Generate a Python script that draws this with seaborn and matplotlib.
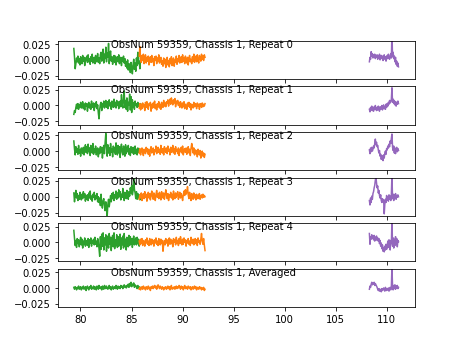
import numpy as np
import matplotlib
matplotlib.use("Agg")
import matplotlib.pyplot as plt
import seaborn as sns

# Frequency limits (GHz) of the three spectral bands
band_green = (79.35, 85.95)
band_orange = (85.75, 92.2)
band_purple = (108.3, 111.15)

# Spectra in units of 1e-3 K, one row per repeat, last row = average
green_vals = [
    [18, 4, -14, -6, 3, -3, 6, -5, 2, -8, 5, 0, -6, 7, -2, 4, -9, 3, -1, 6,
     -4, 8, -3, 2, -7, 5, -2, 9, -5, 1, 4, -6, 7, -3, 0, 10, -4, 3, -6, 8,
     12, -2, 6, 17, -5, 9, 2, 20, -3, 11, 4, 26, -6, 8, 14, -2, 5, -7, 3, 7,
     -4, 6, -8, 2, 5, -3, 8, -6, 1, 4, -9, 3, -2, 6, -5, 2, -10, -3, -13, 0,
     -16, -6, -9, -20, -4, -12, -22, -8, 1, -15, -5, -18, 3, -9, 12, -6, -2, -14, 4, -3],
    [-14, -8, -11, -3, 2, -5, 3, -6, 1, -2, 5, -4, 0, 6, -5, 2, -7, 4, -1, 3,
     -9, 1, 5, -4, 2, -6, 7, -3, 0, 4, -8, 3, -2, 6, -5, 1, -12, -21, -6, 2,
     5, -8, 3, -2, 7, -4, 1, 8, -3, 6, -5, 2, 9, -1, 4, -6, 7, 1, -3, 10,
     -2, 5, -4, 8, 0, 6, -5, 3, 7, -2, 17, 2, -4, 11, 23, -3, 8, -6, 12, -9,
     5, 1, 18, -7, 14, -11, 9, -2, 4, -6, 7, 0, 3, -3, 5, -1, 2, -4, 3, 0],
    [16, 3, -6, 7, -2, 4, -5, 9, -3, 2, -8, 5, 0, -4, 6, -6, 3, 10, -2, 7,
     -4, 11, -1, 5, -7, 9, 2, -3, 12, -5, 4, -2, 8, -6, 1, 5, -9, 3, -4, 7,
     -2, 6, -11, 3, 9, -4, 14, 28, 6, -8, 10, -3, 5, -7, 12, -2, 4, -9, 8, -1,
     6, -5, 13, 0, -6, 9, -3, 7, -10, 5, 11, -2, -6, 8, 3, -8, 10, -4, 6, -1,
     9, -5, 4, -7, 7, 1, -3, 6, -5, 2, 8, -4, 3, -6, 5, -2, 4, -3, 2, -1],
    [6, -8, 3, 10, -2, 5, -6, 2, -4, 7, 0, -5, 4, -3, 8, -1, 5, -7, 2, -4,
     3, -6, 6, -2, 9, -4, 1, -7, 4, -1, 7, -5, 2, -3, 5, -8, 0, -9, -2, -14,
     4, -11, -18, -6, -3, -13, -22, -8, -15, -31, -12, -4, -16, -7, 2, -8, 5, -3, 7, -6,
     3, -2, 9, -4, 6, -2, 11, 0, 8, -5, 4, -1, 13, 3, -6, 7, 2, -3, 10, 5,
     -4, 8, 1, 14, 6, 18, 3, 9, 31, 12, 6, -3, 8, -4, 5, -2, 3, -5, 1, 0],
    [19, 6, -5, 3, -8, 6, -2, 4, -7, 1, 8, -4, 5, -9, 2, -3, 7, -6, 3, 0,
     -5, 6, -8, 4, -2, 7, -6, 3, -1, 5, -4, 8, -3, 2, -7, 6, 1, -10, -22, 9,
     -11, 13, -6, 15, -12, 7, -4, 12, -14, 5, 10, -9, 14, -3, 8, -13, 6, 11, -7, 15,
     -10, 4, -5, 12, -8, 9, -6, 3, 13, -11, 7, -4, 10, -9, 14, -6, 5, -12, 8, 2,
     -7, 11, -5, 9, -3, 6, -8, 4, 10, -4, 3, 7, -4, 8, -2, 5, -6, 3, -1, 2],
    [1, -2, 2, 0, -3, 1, -1, 3, -2, 0, 2, -3, 1, -1, 3, -2, 0, 2, -4, 1,
     3, -1, -3, 2, 0, 4, -2, 1, -1, 3, -2, 2, 0, -3, 3, 1, -2, 4, 0, -1,
     2, -3, 3, 1, -2, 4, 2, -1, 3, 0, -2, 1, 4, -1, 2, -3, 1, 3, -2, 0,
     2, -1, 4, 1, -2, 3, 0, 2, -1, 4, 1, 3, -1, 2, 5, 1, 3, 0, 4, 2,
     6, 1, 7, 3, 9, 2, 6, 4, 8, 1, 5, 2, 3, -1, 4, 0, 2, -2, 1, 0],
]

orange_vals = [
    [6, 21, 2, -4, 7, -1, 9, -6, 3, 8, -5, 4, -2, 6, -8, 1, 5, -4, 7, -3,
     2, -9, 5, -1, 6, -6, 3, -2, 8, -5, 0, 4, -7, -1, -10, 3, -6, 1, -12, -3,
     4, -8, -1, -11, 2, -6, 5, -9, -2, 3, -10, 0, -4, 6, -7, 2, -3, 7, -5, 1,
     5, -4, 8, -2, 3, -6, 6, 0, -5, 4, -8, 3, 7, -3, 1, -6, 5, -2, 9, -4,
     2, 6, -3, 8, 0, -5, 7, 3, -2, 9, 1, 6, -1, 8, 4],
    [-4, 3, -7, 2, -5, 4, -2, 1, -8, 5, -3, 6, -1, -6, 3, 0, 5, -9, 2, -4,
     4, -3, 7, -5, 1, -7, 3, -2, 6, -4, 2, -6, 5, 0, -3, 8, -1, 4, -2, 6,
     3, 9, -1, 7, 10, 2, 12, 5, 1, 9, 4, 11, -2, 7, 3, 8, 0, 5, -3, 6,
     1, -4, 4, -2, 6, -5, 2, 0, -6, 4, -1, 5, -3, 3, -7, 2, 0, -4, 5, -2,
     3, 1, -5, 4, -1, 2, -6, 3, 0, -3, 4, -2, 2, -1, 3],
    [-3, 4, -6, 1, 5, -2, -7, 3, 0, -4, 6, -1, 4, -5, 2, -8, 3, 7, -3, 1,
     5, -6, 2, -1, 8, -4, 0, 6, -2, 3, -5, 9, 1, -3, 4, -6, 7, 2, -2, 5,
     -4, 8, 0, 3, -6, 6, -2, 1, 9, -3, 4, -5, 7, 0, 2, -4, 5, -7, 3, -1,
     6, -3, 8, -6, 2, 4, -2, 5, -5, 1, 7, -3, 3, -7, 4, 12, 6, -3, 5, -6,
     2, -4, 1, -9, 3, -2, -6, 1, -11, -4, 0, -8, -3, -10, -5],
    [-4, 3, -2, 6, -6, 1, 5, -3, 8, -1, 4, -7, 2, 7, -2, 5, -5, 3, 9, 0,
     -4, 6, 2, -6, 4, 10, -1, 5, -3, 7, 1, -5, 8, 3, -2, 6, -4, 2, 11, 4,
     -3, 5, -6, 3, 0, 7, -2, 4, -5, 9, 1, -3, 6, -1, 4, 8, -4, 2, 7, -2,
     5, 0, -6, 3, 9, 2, 11, 4, 7, 16, 3, -3, 7, 0, -6, 5, 2, -4, 6, -2,
     3, -5, 4, 0, -3, 2, 5, -4, 1, 3, -2, 4, -1, 2, 0],
    [2, -4, 5, -2, 6, -5, 3, 0, -6, 4, -1, 7, -3, 2, -5, 6, 1, -4, 5, -2,
     3, -6, 4, -1, 7, -3, 2, -5, 6, 0, -4, 5, -2, 3, -14, -3, 3, -4, 6, -1,
     4, -6, 2, 7, -3, 5, -2, 3, -7, 6, 0, 4, -4, 8, -1, 3, -5, 6, -2, 9,
     1, -4, 5, -3, 7, 0, 4, -6, 3, -1, 6, -3, 2, -5, 8, 1, -2, 5, -4, 3,
     6, -2, 4, -5, 7, 0, 3, -3, 5, 14, 2, -3, 6, -4, -13],
    [-2, 1, -3, 0, 2, -2, 3, -1, 1, -3, 2, 0, -2, 3, -1, 1, -4, 2, 0, 3,
     -1, 2, 4, 0, 3, -2, 1, 5, 2, -1, 3, 1, -2, 2, 0, -3, 1, -1, 2, -2,
     0, 3, -1, 2, -3, 1, 4, -2, 0, -1, 2, -2, 1, 3, -1, 2, 0, 4, 1, -2,
     3, 0, 2, -3, 1, 4, -1, 2, 0, -2, 3, 1, -1, 2, -3, 0, 2, -2, 1, 3,
     -1, 2, -3, 1, 0, -2, 2, -1, 1, -3, 0, -2, 1, -4, -2],
]

purple_vals = [
    [-3, 4, 1, 13, 6, 10, 3, 8, 5, 9, 2, 7, 4, 8, 1, 6, 3, 9, 0, 5,
     7, 2, 6, -1, 4, 8, 1, 5, -2, 3, 7, 2, 9, 4, 1, 6, 10, 3, 42, 5,
     12, 2, 6, -3, 4, -7, -2, -10, -5, -11],
    [-6, -10, -3, -7, -1, -8, -4, -9, -2, -6, 0, -5, -8, -3, -7, -1, -5, -9, -2, -6,
     -4, 0, -7, -3, 1, -5, -2, -6, 2, -3, 3, -1, 5, 2, 8, 4, 6, 10, 28, 5,
     10, 3, 8, 1, 6, -1, 5, 2, 7, 3],
    [2, -4, 5, -1, 6, 0, 3, 8, 5, 12, 19, 10, 14, 7, 9, 2, -3, 1, -8, -5,
     -13, -7, -10, -15, -6, -11, -3, 0, -5, 4, 2, 8, 5, 11, 7, 16, 12, 20, 27, 6,
     1, 8, -3, 5, -4, 3, 6, -1, 4, 1],
    [-6, -13, -2, -9, 1, -4, 5, 8, 14, 18, 26, 31, 22, 14, 17, 6, 10, 2, -2, 3,
     -6, -9, -3, -8, -5, -27, -12, -4, -9, 2, -5, 0, -7, 3, -4, 1, -6, 4, 35, -3,
     4, -6, 3, -2, 5, -4, 2, -1, 3, 0],
    [14, -3, 9, 5, 12, 7, 10, 4, 11, 2, 8, 6, 10, 3, 7, 2, 6, -2, 3, -6,
     -1, -10, -4, -14, -8, -15, -6, -12, -3, -11, -7, 2, -8, 4, -5, -12, 3, -2, 36, -6,
     7, -9, 5, -5, 9, -2, 6, -7, 3, 1],
    [-2, 3, 1, 6, 9, 5, 8, 6, 9, 4, 7, 5, 3, 1, -2, -4, -1, -5, -2, -3,
     -6, -1, -4, -2, 0, -3, -5, 1, -2, -4, -1, -3, 0, -5, -2, 1, -3, 2, 34, 2,
     -3, 4, -1, 5, -2, 3, 0, 4, -1, 1],
]

panel_labels = ["Repeat 0", "Repeat 1", "Repeat 2", "Repeat 3", "Repeat 4", "Averaged"]

fig, axes = plt.subplots(6, 1, sharex=True, figsize=(6.4, 4.8), dpi=72)

for ax, g, o, p, label in zip(axes, green_vals, orange_vals, purple_vals, panel_labels):
    for band, vals, color in ((band_green, g, "tab:green"),
                              (band_orange, o, "tab:orange"),
                              (band_purple, p, "tab:purple")):
        freq = np.linspace(band[0], band[1], len(vals))
        sns.lineplot(x=freq, y=np.array(vals) * 1e-3, ax=ax, color=color, linewidth=1.5)
    ax.set_ylim(-0.03, 0.03)
    ax.set_yticks([-0.025, 0.0, 0.025])
    ax.text(83, 0.02, f"ObsNum 59359, Chassis 1, {label}")

fig.savefig("out.png", dpi=72)
